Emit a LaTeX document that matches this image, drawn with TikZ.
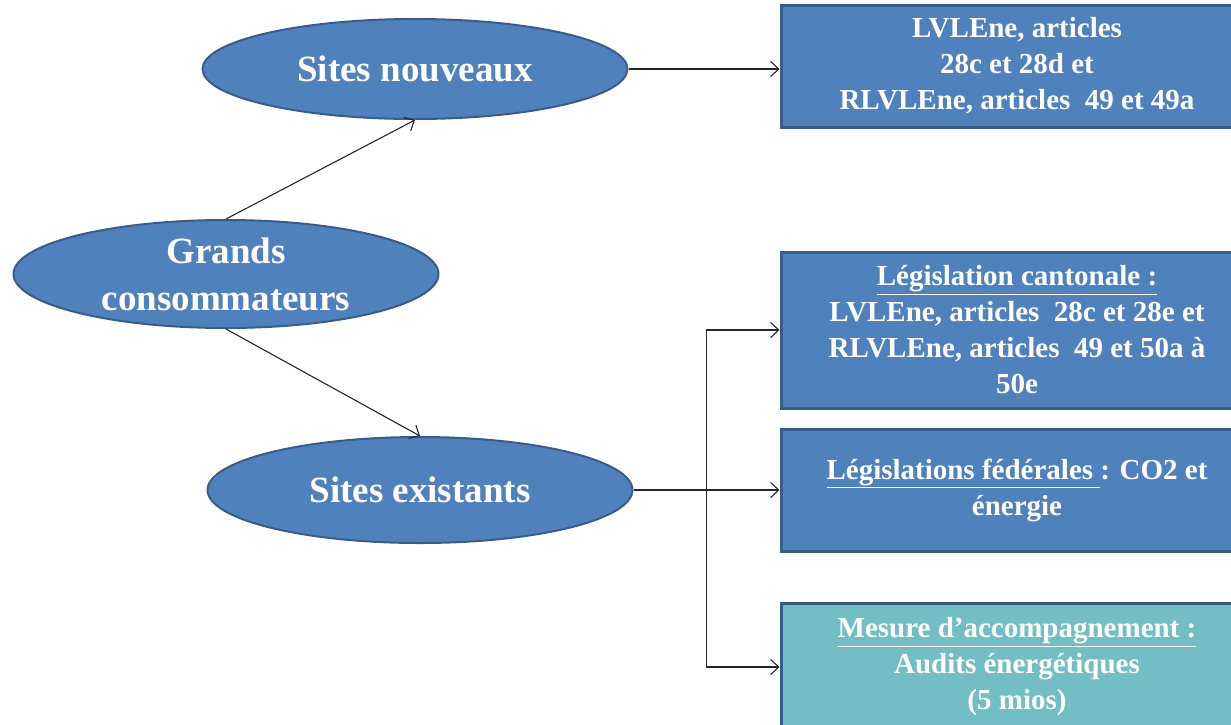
\documentclass[tikz,border=0pt]{standalone}
\usepackage{fontspec}
\setmainfont{Liberation Serif}
\usepackage{xcolor}
\usepackage{tikz}
\usetikzlibrary{positioning, arrows.meta, shapes.geometric, calc}
\definecolor{officeblue}{HTML}{4F81BD}
\definecolor{officeline}{HTML}{385D8A}
\definecolor{officeteal}{HTML}{73BEC5}

\begin{document}
\begin{tikzpicture}[
    x=1pt, y=-1pt,
    >={Straight Barb[length=8pt,width=15pt]},
    site/.style={ellipse, draw=officeline, line width=2pt, fill=officeblue, text=white, align=center, inner sep=0pt, minimum width=425pt, minimum height=100pt, font=\bfseries\fontsize{37}{47}\selectfont},
    loi/.style={rectangle, draw=officeline, line width=3pt, fill=officeblue, text=white, align=center, minimum width=472pt, font=\bfseries\fontsize{29}{36}\selectfont},
    mesure/.style={loi, fill=officeteal},
    link/.style={line width=1.1pt, black!85}
]
\useasboundingbox (0,0) rectangle (1231,724);

% Nodes
\node[site] (sn) at (415,69) {Sites nouveaux};
\node[site, minimum height=108pt] (gc) at (226,274) {Grands\\consommateurs};
\node[site, minimum height=106pt] (se) at (420,490) {Sites existants};

\node[loi, minimum height=122pt] (box1) at (1017,66) {LVLEne, articles\\28c et 28d et\\RLVLEne, articles~ 49 et 49a};
\node[loi, minimum height=156pt] (box2) at (1017,330) {\underline{Législation cantonale :}\\LVLEne, articles~~28c et 28e et\\RLVLEne, articles~ 49 et 50a à\\50e};
\node[loi, minimum height=122pt] (box3) at (1017,490) {\underline{Législations fédérales\ }: CO2 et\\énergie};
\node[mesure, minimum height=128pt] (box4) at (1017,667) {\underline{Mesure d’accompagnement :}\\Audits énergétiques\\(5 mios)};

\coordinate (jn) at ($(se.east)!0.5!(box3.west)$); % branch point

% Arrows from the root
\draw[link, ->] (gc.north) -- (sn.south);
\draw[link, ->] (gc.south) -- (se.north);

% Arrows to the laws
\draw[link, ->] (sn.east) -- (sn.east -| box1.west);
\draw[link, ->] (se.east) -- (box3.west);
\draw[link, ->] (jn) |- (box2.west);
\draw[link, ->] (jn) |- (box4.west);

\end{tikzpicture}
\end{document}
